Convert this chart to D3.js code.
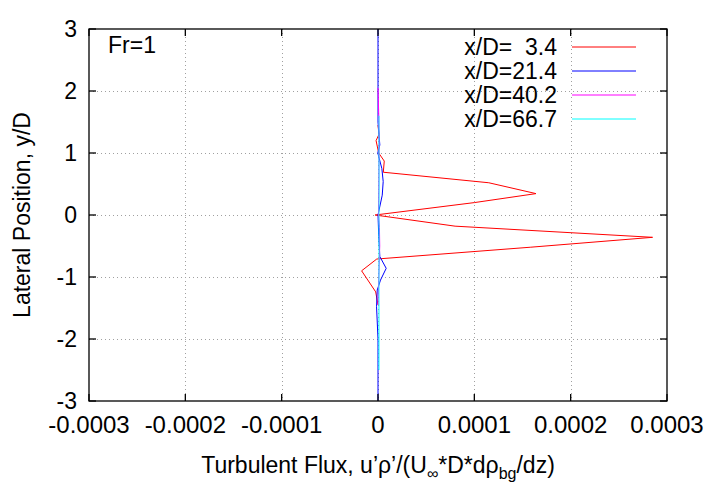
<!DOCTYPE html>
<html lang="en">
<head>
    <meta charset="UTF-8">
    <title>Turbulent Flux</title>
    <script src="https://cdnjs.cloudflare.com/ajax/libs/d3/7.6.1/d3.min.js"></script>
    <style>
        body { margin: 0; background: #fff; }
        text { font-family: "Liberation Sans", Arial, sans-serif; fill: #000; }
    </style>
</head>
<body>
<svg id="chart" width="720" height="504"></svg>
<script>

    // tick values / labels
    const xTicks = [-0.0003, -0.0002, -0.0001, 0, 0.0001, 0.0002, 0.0003]
    const xTickLabels = ["-0.0003", "-0.0002", "-0.0001", "0", "0.0001", "0.0002", "0.0003"]
    const yTicks = [-3, -2, -1, 0, 1, 2, 3]

    const seriesNames = ["x/D=  3.4", "x/D=21.4", "x/D=40.2", "x/D=66.7"]

    // x/D = 3.4
    const yPos1 = [1.45, 1.3, 1.2, 1.0, 0.87, 0.69, 0.52, 0.345, 0.2, 0.0, -0.18, -0.36, -0.52, -0.71, -0.9, -1.24, -1.45]
    const flux1 = [0, 0.000001, -0.000002, 0.0000007, 0.0000065, 0.0000055, 0.000115, 0.000164, 0.0001, -0.000003, 0.00008, 0.000285, 0.000158, -0.0000013, -0.000017, -0.0000024, 0]

    // x/D = 21.4
    const yPos2 = [3, 2.0, 1.5, 1.3, 1.13, 1.0, 0.75, 0.54, 0.32, 0.0, -0.35, -0.67, -0.86, -1.05, -1.21, -1.48, -2, -3]
    const flux2 = [0, 0, 0, 0.000001, 0.0000019, -0.0000002, 0.000004, 0.0000054, 0.0000044, 0, 0.0000008, 0.0000019, 0.0000085, 0.0000026, -0.0000008, -0.0000015, 0, 0]

    // x/D = 40.2
    const yPos3 = [2.05, 1.6, 1.2, 0.8, 0.4, 0.0, -0.2, -0.5, -0.8, -1.2, -1.45]
    const flux3 = [0, 0.0000008, 0.0000012, 0.000001, 0.0000008, 0.0000005, 0.0000015, 0.0000018, 0.0000012, 0.0000005, 0]

    // x/D = 66.7
    const yPos4 = [1.6, 1.0, 0.5, 0.0, -0.5, -1.0, -1.5, -2.0, -2.5]
    const flux4 = [0.000001, 0.000001, 0.0000011, 0.000001, 0.0000011, 0.000001, 0.000001, 0.000001, 0.000001]

    const colors = ["#ff0000", "#0000ff", "#ff00ff", "#00ffff"]

    const series = [
        {name: seriesNames[0], y: yPos1, x: flux1, color: colors[0]},
        {name: seriesNames[1], y: yPos2, x: flux2, color: colors[1]},
        {name: seriesNames[2], y: yPos3, x: flux3, color: colors[2]},
        {name: seriesNames[3], y: yPos4, x: flux4, color: colors[3]}
    ]

    const svg = d3.select("#chart")
    const margin = {left: 89, right: 53, top: 29, bottom: 103}
    const W = 720, H = 504
    const x0 = margin.left, x1 = W - margin.right
    const y0 = H - margin.bottom, y1 = margin.top

    const x = d3.scaleLinear().domain([-0.0003, 0.0003]).range([x0, x1])
    const y = d3.scaleLinear().domain([-3, 3]).range([y0, y1])

    // grid
    const grid = svg.append("g")
        .attr("stroke", "#a0a0a0")
        .attr("stroke-width", 1)
        .attr("stroke-dasharray", "1,3")
    xTicks.slice(1, -1).forEach(t => {
        grid.append("line").attr("x1", Math.round(x(t)) + 0.5).attr("x2", Math.round(x(t)) + 0.5)
            .attr("y1", y1).attr("y2", y0)
    })
    yTicks.slice(1, -1).forEach(t => {
        grid.append("line").attr("y1", Math.round(y(t)) + 0.5).attr("y2", Math.round(y(t)) + 0.5)
            .attr("x1", x0).attr("x2", x1)
    })

    // data lines
    const line = d3.line()
        .x(d => x(d[0]))
        .y(d => y(d[1]))

    series.forEach(s => {
        svg.append("path")
            .datum(s.x.map((v, i) => [v, s.y[i]]))
            .attr("d", line)
            .attr("fill", "none")
            .attr("stroke", s.color)
            .attr("stroke-width", 1)
    })

    // border + ticks (mirrored, inward)
    svg.append("rect")
        .attr("x", x0).attr("y", y1)
        .attr("width", x1 - x0).attr("height", y0 - y1)
        .attr("fill", "none").attr("stroke", "#000").attr("stroke-width", 1.3)

    const tl = 7
    const ticks = svg.append("g").attr("stroke", "#000").attr("stroke-width", 1.3)
    xTicks.forEach(t => {
        ticks.append("line").attr("x1", x(t)).attr("x2", x(t)).attr("y1", y0).attr("y2", y0 - tl)
        ticks.append("line").attr("x1", x(t)).attr("x2", x(t)).attr("y1", y1).attr("y2", y1 + tl)
    })
    yTicks.forEach(t => {
        ticks.append("line").attr("y1", y(t)).attr("y2", y(t)).attr("x1", x0).attr("x2", x0 + tl)
        ticks.append("line").attr("y1", y(t)).attr("y2", y(t)).attr("x1", x1).attr("x2", x1 - tl)
    })

    // tick labels
    svg.append("g").selectAll("text")
        .data(xTicks)
        .join("text")
        .attr("x", d => x(d))
        .attr("y", y0 + 32)
        .attr("text-anchor", "middle")
        .style("font-size", "24px")
        .text((d, i) => xTickLabels[i])

    svg.append("g").selectAll("text")
        .data(yTicks)
        .join("text")
        .attr("x", x0 - 12)
        .attr("y", d => y(d) + 8)
        .attr("text-anchor", "end")
        .style("font-size", "23px")
        .text(d => d)

    // axis titles
    const xt = svg.append("text")
        .attr("x", (x0 + x1) / 2)
        .attr("y", 473)
        .attr("text-anchor", "middle")
        .style("font-size", "23px")
    xt.append("tspan").text("Turbulent Flux, u’ρ’/(U")
    xt.append("tspan").attr("dy", 6).style("font-size", "16px").text("∞")
    xt.append("tspan").attr("dy", -6).text("*D*dρ")
    xt.append("tspan").attr("dy", 6).style("font-size", "16px").text("bg")
    xt.append("tspan").attr("dy", -6).text("/dz)")

    svg.append("text")
        .attr("transform", `translate(30, ${(y0 + y1) / 2}) rotate(-90)`)
        .attr("text-anchor", "middle")
        .style("font-size", "23px")
        .text("Lateral Position, y/D")

    svg.append("text")
        .attr("x", 108).attr("y", 53)
        .style("font-size", "23px")
        .text("Fr=1")

    // legend
    const lg = svg.append("g")
    series.forEach((s, i) => {
        const ly = 47 + i * 24
        lg.append("text")
            .attr("x", 557).attr("y", ly + 8)
            .attr("text-anchor", "end")
            .style("font-size", "23px")
            .style("white-space", "pre")
            .text(s.name)
        lg.append("line")
            .attr("x1", 572).attr("x2", 636)
            .attr("y1", ly).attr("y2", ly)
            .attr("stroke", s.color).attr("stroke-width", 1)
    })
</script>
</body>
</html>
